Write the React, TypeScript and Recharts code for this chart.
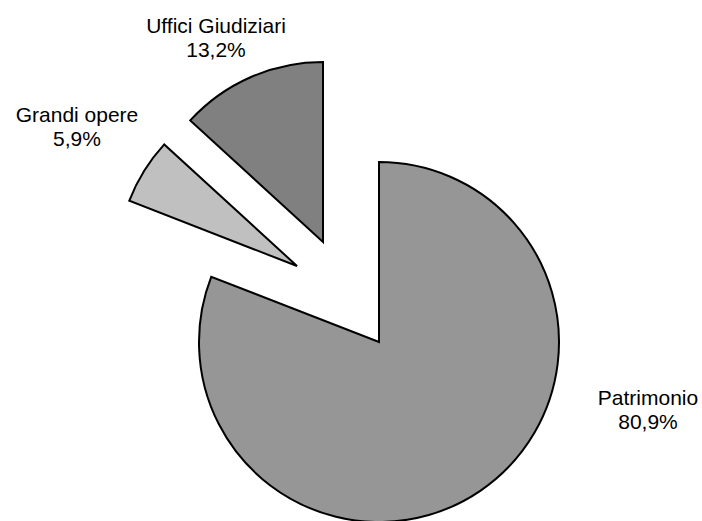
import React from "react";
import { PieChart, Pie, Cell } from "recharts";

const names = ["Patrimonio", "Grandi opere", "Uffici Giudiziari"];
const shares = [80.9, 5.9, 13.2];
const fills = ["#969696", "#c0c0c0", "#808080"];

const data = names.map((name, i) => ({ name, value: shares[i] }));

// each slice drawn by its own Pie so it can be pulled out of the centre
const sliceCentres = [
  { cx: 379, cy: 342 },
  { cx: 297, cy: 266 },
  { cx: 323, cy: 242 },
];

// label anchor (centre x, first baseline)
const labelPos = [
  { x: 648, y: 405 },
  { x: 77, y: 122 },
  { x: 216, y: 33 },
];

const fmt = (v: number) => v.toFixed(1).replace(".", ",") + "%";

export default function App() {
  return (
    <div style={{ position: "absolute", left: 0, top: 0, width: 702, height: 521, background: "#fff" }}>
      <PieChart width={702} height={521} margin={{ top: 0, right: 0, bottom: 0, left: 0 }}>
        {sliceCentres.map((c, k) => (
          <Pie
            key={k}
            data={data}
            dataKey="value"
            nameKey="name"
            cx={c.cx}
            cy={c.cy}
            outerRadius={180}
            startAngle={90}
            endAngle={-270}
            isAnimationActive={false}
            labelLine={false}
            label={(p: any) => {
              if (p.index !== k) return null;
              const pos = labelPos[k];
              return (
                <text
                  x={pos.x}
                  y={pos.y}
                  textAnchor="middle"
                  fill="#000"
                  fontFamily="'Liberation Sans', Arial, sans-serif"
                  fontSize={21}
                >
                  <tspan x={pos.x} y={pos.y}>{names[k]}</tspan>
                  <tspan x={pos.x} y={pos.y + 23.5}>{fmt(shares[k])}</tspan>
                </text>
              );
            }}
          >
            {data.map((d, i) => (
              <Cell
                key={d.name}
                fill={i === k ? fills[i] : "none"}
                stroke={i === k ? "#000" : "none"}
                strokeWidth={2}
              />
            ))}
          </Pie>
        ))}
      </PieChart>
    </div>
  );
}
